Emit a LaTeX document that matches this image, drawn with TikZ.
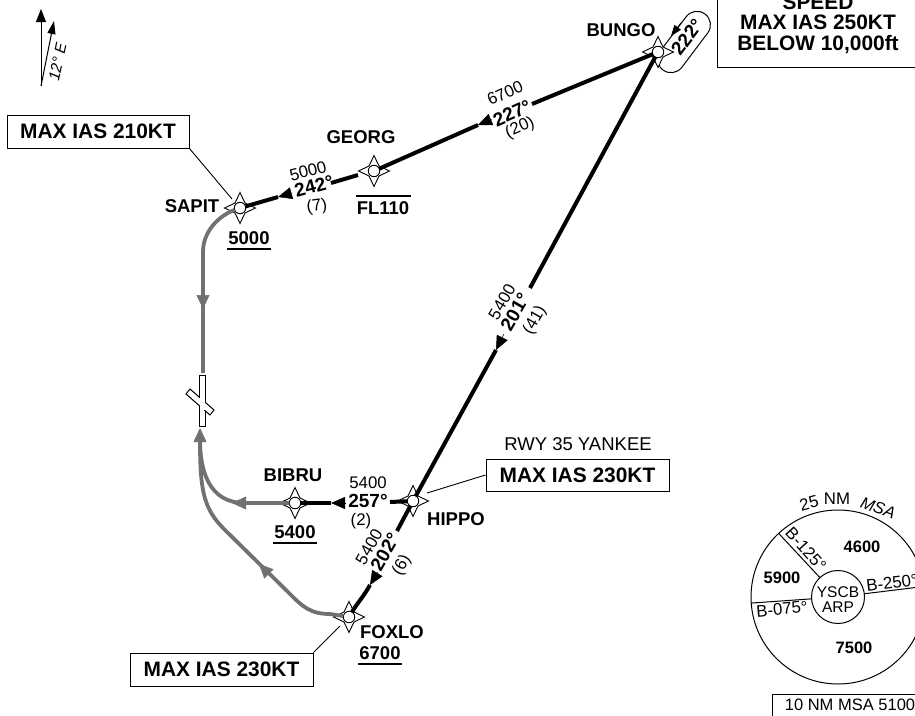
\documentclass[tikz,border=0pt]{standalone}
\usepackage{fontspec}
\setmainfont{Liberation Sans}
\usetikzlibrary{arrows.meta,calc}
\tikzset{
  x=1pt,y=-1pt,
  wname/.style={font=\fontsize{18.5}{20}\bfseries\selectfont,inner sep=0pt},
  boxtext/.style={font=\fontsize{20.9}{20.6}\bfseries\selectfont,draw,line width=1pt,inner sep=0pt,align=center},
  alt/.style={font=\fontsize{16.8}{18}\selectfont,inner sep=0pt},
  crs/.style={font=\fontsize{19}{20}\bfseries\selectfont,inner sep=0pt},
  msab/.style={font=\fontsize{16.5}{18}\bfseries\selectfont,inner sep=0pt},
  fixc/.style={circle,draw,fill=white,line width=0.9pt,minimum size=11.5pt,inner sep=0pt,outer sep=0pt},
  leg/.style={line width=4pt},
  headk/.style={line width=0.5pt,-{Triangle[length=14pt,width=12pt]}},
  gpath/.style={line width=3.8pt,draw=tgrey},
  headg/.style={line width=0.5pt,draw=tgrey,-{Triangle[length=14pt,width=13pt,fill=tgrey]}},
  lead/.style={line width=0.9pt},
  rule/.style={line width=1.8pt},
}
\definecolor{tgrey}{HTML}{717171}
\newcommand{\fixpt}[2]{%
  \draw[fill=white,line width=0.9pt,shift={(#2)}] (0,-15.5) -- (5,-5) -- (15.5,0) -- (5,5) -- (0,15.5) -- (-5,5) -- (-15.5,0) -- (-5,-5) -- cycle;
  \node[fixc] (#1) at (#2) {};}
\begin{document}
\begin{tikzpicture}
\clip (0,0) rectangle (915,715);
% north arrows
\coordinate (nbase) at (41,86);
\coordinate (ntrue) at (41,9);
\coordinate (nmag) at (54,21);
\draw[line width=1pt,-{Triangle[length=13pt,width=10pt]}] (nbase) -- (ntrue);
\draw[line width=1pt,-{Triangle[length=13pt,width=8pt]}] (nbase) -- (nmag);
\node[font=\fontsize{15.5}{16}\itshape\selectfont,inner sep=0pt,rotate=78] (magvar) at (57.5,62) {12° E};
% holding pill at BUNGO
\node[draw,line width=1pt,rounded corners=13.5pt,minimum width=70pt,minimum height=27pt,rotate=53,inner sep=0pt] (pill) at (684,42) {};
\node[crs,rotate=53] (pilltext) at (687,37) {222°};
\coordinate (pa) at (681,23);
\coordinate (pb) at (671,36);
\draw[line width=1pt,-{Triangle[length=11pt,width=8pt]}] (pa) -- (pb);
% fixes
\fixpt{BUNGO}{658,52}
\fixpt{GEORG}{374,171}
\fixpt{SAPIT}{240,208}
\fixpt{HIPPO}{413,501}
\fixpt{BIBRU}{295,503}
\fixpt{FOXLO}{349,617}
% black legs
\coordinate (a1) at (278,197); \coordinate (a1b) at (292,193);
\coordinate (a2) at (331,183); \coordinate (a2b) at (358,175);
\coordinate (a3) at (478,125); \coordinate (a3b) at (492,119);
\coordinate (a4) at (532,104);
\coordinate (a5) at (530,288);
\coordinate (a6) at (496,350); \coordinate (a6b) at (504,334);
\coordinate (a7) at (331,503); \coordinate (a7b) at (345,503);
\coordinate (a8) at (310,503);
\coordinate (a9) at (390,502);
\coordinate (a10) at (397,531);
\coordinate (a11) at (370,585); \coordinate (a11b) at (378,572);
\draw[leg] (SAPIT) -- (a1);
\draw[headk] (a1b) -- (a1);
\draw[leg] (a2) -- (a2b);
\draw[leg] (GEORG) -- (a3);
\draw[headk] (a3b) -- (a3);
\draw[leg] (a4) -- (BUNGO);
\draw[leg] (BUNGO) -- (a5);
\draw[headk] (a6b) -- (a6);
\draw[leg] (a6) -- (HIPPO);
\draw[leg] (BIBRU) -- (a7);
\draw[headk] (a7b) -- (a7);
\draw[leg] (a9) -- (HIPPO);
\draw[leg] (HIPPO) -- (a10);
\draw[headk] (a11b) -- (a11);
\draw[leg] (a11) .. controls (364,596) and (358,602) .. (FOXLO);
% grey paths
\coordinate (g1) at (203,252);
\coordinate (g2) at (203,373);
\coordinate (g3) at (203,295); \coordinate (g3t) at (203,309);
\draw[gpath] (SAPIT) .. controls (218,216) and (203,232) .. (g1) -- (g2);
\draw[headg] (g3) -- (g3t);
\coordinate (g4) at (200,428); \coordinate (g4b) at (200,442);
\coordinate (g6) at (245,503); \coordinate (g6t) at (232,503); \coordinate (g6b) at (246,503);
\draw[headg] (g4b) -- (g4);
\draw[gpath] (BIBRU) -- (g6) .. controls (222,503) and (201,490) .. (g4b);
\draw[headg] (g6b) -- (g6t);
\coordinate (g7) at (290,594); \coordinate (g8) at (225,530);
\coordinate (g9b) at (269,574); \coordinate (g9t) at (259,564);
\draw[gpath] (FOXLO) -- (330,614) .. controls (310,614) and (302,606) .. (g7) -- (g8) .. controls (205,510) and (200,495) .. (g4b);
\draw[headg] (g9b) -- (g9t);
% runway symbol
\draw[fill=white,line width=1pt] (199,375) rectangle (205,426);
\draw[fill=white,line width=1pt] (186,394) -- (190,389) -- (214,410) -- (210,415) -- cycle;
\fill[white] (199.5,397) rectangle (204.5,410);
% fix labels
\node[wname] (tBUNGO) at (621,30) {BUNGO};
\node[wname] (tGEORG) at (361,137) {GEORG};
\node[wname] (tFL) at (383,208) {FL110};
\draw[rule] (356,196) -- (411,196);
\node[wname] (tSAPIT) at (192,206) {SAPIT};
\node[wname] (tS5) at (249,238) {5000};
\draw[rule] (tS5.south west) ++(-1,4) -- ($(tS5.south east)+(1,4)$);
\node[wname] (tBIBRU) at (293,475) {BIBRU};
\node[wname] (tB5) at (295,532) {5400};
\draw[rule] (tB5.south west) ++(-1,4) -- ($(tB5.south east)+(1,4)$);
\node[wname] (tHIPPO) at (456,519) {HIPPO};
\node[wname] (tFOXLO) at (392,632) {FOXLO};
\node[wname] (tF6) at (380,653) {6700};
\draw[rule] (tF6.south west) ++(-1,4) -- ($(tF6.south east)+(1,4)$);
% leg labels
\node[alt,rotate=14] (l1a) at (308,171) {5000};
\node[crs,rotate=15] (l1b) at (314,186) {242°};
\node[alt,rotate=8] (l1c) at (317,207) {(7)};
\node[alt,rotate=24] (l2a) at (505,93) {6700};
\node[crs,rotate=24] (l2b) at (512,113) {227°};
\node[alt,rotate=24] (l2c) at (520,128) {(20)};
\node[alt,rotate=60] (l3a) at (502,302) {5400};
\node[crs,rotate=60] (l3b) at (515,312) {201°};
\node[alt,rotate=60] (l3c) at (535,320) {(41)};
\node[alt] (l4a) at (368,483) {5400};
\node[crs] (l4b) at (368,501) {257°};
\node[alt] (l4c) at (361,521) {(2)};
\node[alt,rotate=60] (l5a) at (369,547) {5400};
\node[crs,rotate=60] (l5b) at (385,552) {202°};
\node[alt,rotate=60] (l5c) at (402,565) {(6)};
% speed boxes
\node[boxtext,minimum width=202pt,minimum height=86pt] (speed) at (818,24) {SPEED\\MAX IAS 250KT\\BELOW 10,000ft};
\node[boxtext,minimum width=182pt,minimum height=33pt] (b210) at (98,131.5) {MAX IAS 210KT};
\node[boxtext,minimum width=183pt,minimum height=32pt] (b230a) at (577.5,475) {MAX IAS 230KT};
\node[boxtext,minimum width=183pt,minimum height=33pt] (b230b) at (221.5,669.5) {MAX IAS 230KT};
\node[font=\fontsize{18.5}{20}\selectfont,inner sep=0pt] (rwy) at (578,444) {RWY 35 YANKEE};
\coordinate (q1) at (232,199);
\coordinate (q2) at (427,493);
\coordinate (q3) at (340,626);
\draw[lead] (b210.south east) -- (q1);
\draw[lead] (b230a.west) -- (q2);
\draw[lead] (b230b.north east) -- (q3);
% MSA
\node[circle,draw,line width=1pt,minimum size=174pt,inner sep=0pt,outer sep=0pt] (msaout) at (838,597) {};
\node[circle,draw,line width=1pt,minimum size=53pt,inner sep=0pt,outer sep=0pt] (msain) at (838,597) {};
\draw[line width=1pt] (msain.133) -- (msaout.133);
\draw[line width=1pt] (msain.7) -- (msaout.7);
\draw[line width=1pt] (msain.184) -- (msaout.184);
\node[alt,rotate=-48] (m1) at (806,549) {B-125°};
\node[alt,rotate=7] (m2) at (892,583) {B-250°};
\node[alt,rotate=5] (m3) at (782,609) {B-075°};
\node[alt,align=center,font=\fontsize{15.5}{15.5}\selectfont] (m4) at (838,599.5) {YSCB\\ARP};
\node[msab] (m5) at (862,547) {4600};
\node[msab] (m6) at (782,578) {5900};
\node[msab] (m7) at (854,648) {7500};
\node[alt,rotate=15] (m8) at (809,503) {25};
\node[alt] (m9) at (837,499) {NM};
\node[alt,rotate=-20,font=\fontsize{16.5}{18}\itshape\selectfont] (m10) at (878,508) {MSA};
\node[draw,line width=1pt,font=\fontsize{16.5}{18}\selectfont,inner sep=0pt,minimum width=156pt,minimum height=22pt] (m11) at (850,705) {10 NM MSA 5100};
\end{tikzpicture}
\end{document}
